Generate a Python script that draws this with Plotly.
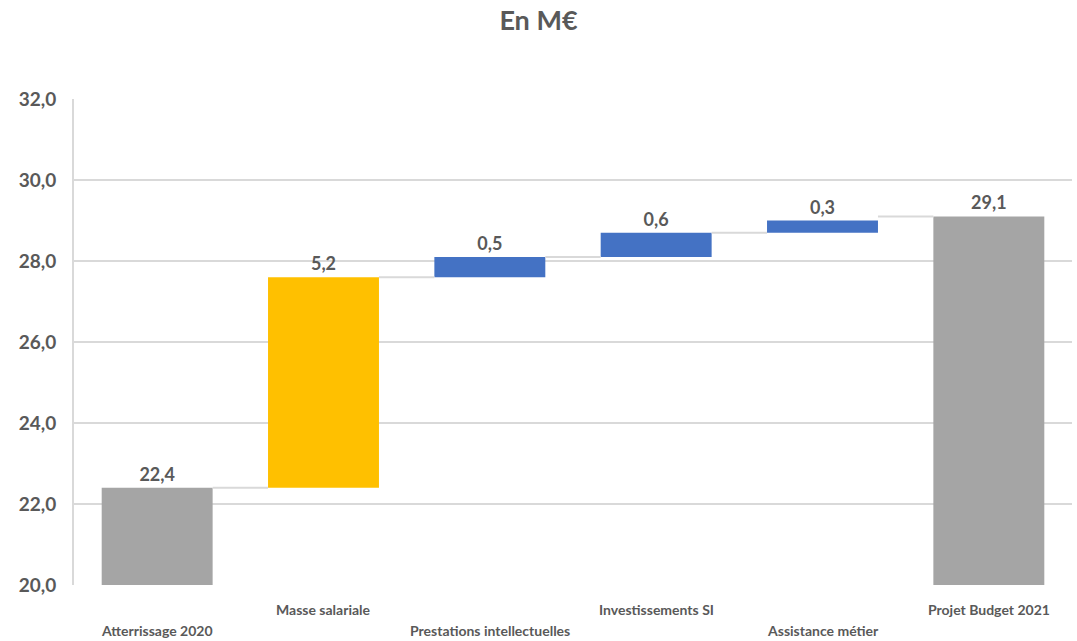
import plotly.graph_objects as go

# Budget bridge 2020 -> 2021 (M€)
categories = [
    "Atterrissage 2020",
    "Masse salariale",
    "Prestations intellectuelles",
    "Investissements SI",
    "Assistance métier",
    "Projet Budget 2021",
]
values = [22.4, 5.2, 0.5, 0.6, 0.3, 29.1]
kinds = ["total", "delta", "delta", "delta", "delta", "total"]
bar_colors = ["#a5a5a5", "#ffc000", "#4472c4", "#4472c4", "#4472c4", "#a5a5a5"]

GRID = "#d9d9d9"
TEXT = "#595959"
FONT = "Lato"
BARGAP = 0.333

# Bases: totals start from zero, deltas float on the running total
bases, tops = [], []
running = 0.0
for v, k in zip(values, kinds):
    if k == "total":
        bases.append(0.0)
        running = v
    else:
        bases.append(running)
        running += v
    tops.append(bases[-1] + v)

labels = [f"{v:.1f}".replace(".", ",") for v in values]

fig = go.Figure()

# Connector lines between consecutive bars (at the next total's height
# when the next bar is a total, otherwise at the current running top)
half = (1 - BARGAP) / 2
cx, cy = [], []
for i in range(len(categories) - 1):
    level = tops[i + 1] if kinds[i + 1] == "total" else tops[i]
    cx += [i + half, i + 1 - half, None]
    cy += [level, level, None]
fig.add_trace(go.Scatter(
    x=cx, y=cy, mode="lines",
    line=dict(color=GRID, width=2),
    hoverinfo="skip", showlegend=False,
))

fig.add_trace(go.Bar(
    x=list(range(len(categories))),
    y=values,
    base=bases,
    marker=dict(color=bar_colors, line=dict(width=0)),
    text=labels,
    textposition="outside",
    textfont=dict(family=FONT, size=18, color=TEXT, weight="bold"),
    cliponaxis=False,
    showlegend=False,
))

# Category names, staggered on two rows
for i, name in enumerate(categories):
    fig.add_annotation(
        x=i, y=0, xref="x", yref="paper",
        text=name, showarrow=False,
        yanchor="middle",
        yshift=-45 if i % 2 == 0 else -24,
        font=dict(family=FONT, size=14, color=TEXT, weight="bold"),
    )

fig.update_layout(
    width=1077, height=641,
    margin=dict(l=74, r=5, t=99, b=56),
    paper_bgcolor="white", plot_bgcolor="white",
    bargap=BARGAP,
    title=dict(
        text="En M€", x=0.5, xanchor="center", y=0.968, yanchor="middle",
        font=dict(family=FONT, size=27, color=TEXT, weight="bold"),
    ),
    xaxis=dict(
        range=[-0.5, len(categories) - 0.5],
        showticklabels=False, showgrid=False, zeroline=False,
        showline=False, fixedrange=True,
    ),
    yaxis=dict(
        range=[20, 32], dtick=2, tick0=20,
        tickformat=".1f",
        showgrid=True, gridcolor=GRID, gridwidth=2,
        showline=True, linecolor=GRID, linewidth=2,
        zeroline=False, ticks="",
        ticklabelstandoff=12,
        tickfont=dict(family=FONT, size=19, color=TEXT, weight="bold"),
    ),
    separators=", ",
)

fig.write_html("out.html")
